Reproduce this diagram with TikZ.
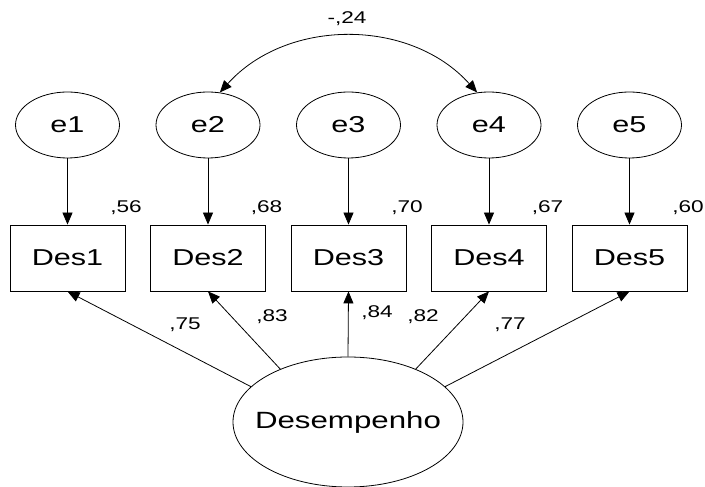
\documentclass[tikz,border=0pt]{standalone}
\usepackage{fontspec}
\setmainfont{Liberation Sans}[FakeStretch=1.33]
\usetikzlibrary{arrows.meta,shapes.geometric}
\tikzset{
  lat/.style={draw, ellipse, line width=0.8pt, minimum width=104pt, minimum height=66pt, inner sep=0pt, font=\fontsize{23}{25}\selectfont},
  obs/.style={draw, rectangle, line width=0.8pt, minimum width=115pt, minimum height=66pt, inner sep=0pt, font=\fontsize{23}{25}\selectfont},
  big/.style={draw, ellipse, line width=0.8pt, minimum width=230pt, minimum height=130pt, inner sep=0pt},
  bigtext/.style={inner sep=0pt, font=\fontsize{23.5}{25}\selectfont},
  num/.style={anchor=base, inner sep=0pt, font=\fontsize{17}{19}\selectfont},
  arr/.style={line width=0.8pt, -{Triangle[length=12pt,width=10pt]}},
  darr/.style={line width=0.8pt, {Triangle[length=12pt,width=10pt]}-{Triangle[length=12pt,width=10pt]}}
}
\begin{document}
\begin{tikzpicture}[x=1pt,y=1pt]
\useasboundingbox (0,0) rectangle (705,487);
% error terms
\node[lat] (e1) at (67.5,362) {e1};
\node[lat] (e2) at (208,362) {e2};
\node[lat] (e3) at (348.5,362) {e3};
\node[lat] (e4) at (489,362) {e4};
\node[lat] (e5) at (629.5,362) {e5};
% observed
\node[obs] (d1) at (67.5,229) {Des1};
\node[obs] (d2) at (208,229) {Des2};
\node[obs] (d3) at (348.5,229) {Des3};
\node[obs] (d4) at (489,229) {Des4};
\node[obs] (d5) at (629.5,229) {Des5};
% latent
\node[big] (D) at (348,65) {};
\node[bigtext] (Dt) at (D.center) {Desempenho};
% error arrows
\foreach \i in {1,...,5} {\draw[arr] (e\i) -- (d\i);}
% loadings
\draw[arr] (D.160) -- (d1.south);
\draw[arr] (D.142) -- (d2.south);
\draw[arr] (D.north) -- (d3.south);
\draw[arr] (D.38) -- (d4.south);
\draw[arr] (D.20) -- (d5.south);
% covariance
\draw[darr] (e2.70) to[bend left=48] (e4.110);
% labels
\node[num] (r1) at (126,274) {,56};
\node[num] (r2) at (266.5,274) {,68};
\node[num] (r3) at (407,274) {,70};
\node[num] (r4) at (547.5,274) {,67};
\node[num] (r5) at (688,274) {,60};
\node[num] (l1) at (185,157) {,75};
\node[num] (l2) at (272,165) {,83};
\node[num] (l3) at (377,169) {,84};
\node[num] (l4) at (423,165) {,82};
\node[num] (l5) at (510,157) {,77};
\node[num] (c24) at (347,463) {-,24};
\end{tikzpicture}
\end{document}
